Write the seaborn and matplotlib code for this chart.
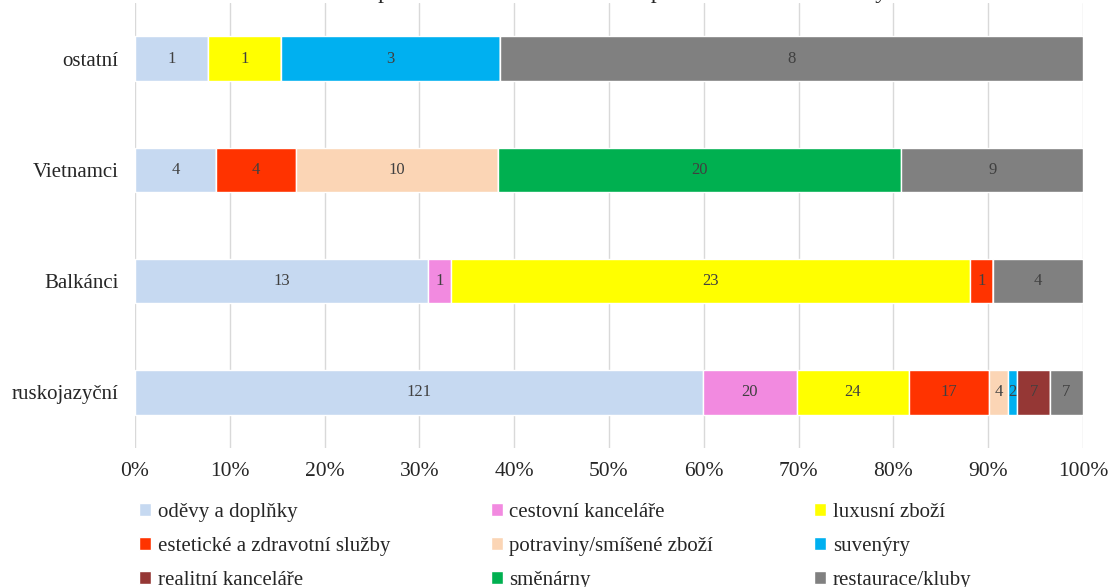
import numpy as np
import pandas as pd
import matplotlib
matplotlib.use("Agg")
import matplotlib.pyplot as plt
import seaborn as sns

# data
groups = ["ruskojazyční", "Balkánci", "Vietnamci", "ostatní"]
categories = ["oděvy a doplňky", "cestovní kanceláře", "luxusní zboží",
              "estetické a zdravotní služby", "potraviny/smíšené zboží", "suvenýry",
              "realitní kanceláře", "směnárny", "restaurace/kluby"]
counts_rusko = [121, 20, 24, 17, 4, 2, 7, 0, 7]
counts_balkan = [13, 1, 23, 1, 0, 0, 0, 0, 4]
counts_vietnam = [4, 0, 0, 4, 10, 0, 0, 20, 9]
counts_ostatni = [1, 0, 1, 0, 0, 3, 0, 0, 8]
colors = ["#C6D9F1", "#F28AE0", "#FFFF00", "#FF3300", "#FBD5B5",
          "#00B0F0", "#953735", "#00B050", "#808080"]
title = "Podíl obchodů a služeb podle zaměření a národnosti provozovatelů v Karlových Varech"

df = pd.DataFrame([counts_rusko, counts_balkan, counts_vietnam, counts_ostatni],
                  index=groups, columns=categories)
share = df.div(df.sum(axis=1), axis=0) * 100

sns.set_theme(style="white")
plt.rcParams['font.family'] = ['Liberation Serif', 'DejaVu Serif']

fig = plt.figure(figsize=(11.1, 5.87), dpi=100)
ax = fig.add_axes([0.1216, 0.237, 0.854, 0.758])

ypos = np.arange(len(groups))
left = np.zeros(len(groups))
for cat, col in zip(categories, colors):
    vals = share[cat].values
    ax.barh(ypos, vals, left=left, height=0.4, color=col, label=cat, zorder=3)
    for y, v, l, n in zip(ypos, vals, left, df[cat].values):
        if n > 0:
            ax.text(l + v / 2, y, str(n), ha="center", va="center",
                    fontsize=12, color="#404040", zorder=4)
    left += vals

ax.set_xlim(0, 100)
ax.set_ylim(-0.5, 3.5)
ax.set_yticks(ypos)
ax.set_yticklabels(groups, fontsize=15)
ax.set_xticks(np.arange(0, 101, 10))
ax.set_xticklabels([f"{t}%" for t in range(0, 101, 10)], fontsize=15.5)
ax.tick_params(axis="y", length=0, pad=12)
ax.tick_params(axis="x", length=0, pad=10)
ax.xaxis.grid(True, color="#D9D9D9", linewidth=1, zorder=0)
for s in ax.spines.values():
    s.set_visible(False)

fig.text(0.51, 1.014, title, ha="center", va="center", fontsize=17)

# legend filled row by row
handles, labels = ax.get_legend_handles_labels()
order = [0, 3, 6, 1, 4, 7, 2, 5, 8]
fig.legend([handles[i] for i in order], [labels[i] for i in order], ncol=3,
           loc="upper left", bbox_to_anchor=(0.125, 0.0, 0.75, 0.143), mode="expand",
           frameon=False, fontsize=15, handlelength=0.6, handleheight=0.6,
           handletextpad=0.3, labelspacing=0.72, borderaxespad=0, borderpad=0)

fig.savefig("out.png", dpi=100)
